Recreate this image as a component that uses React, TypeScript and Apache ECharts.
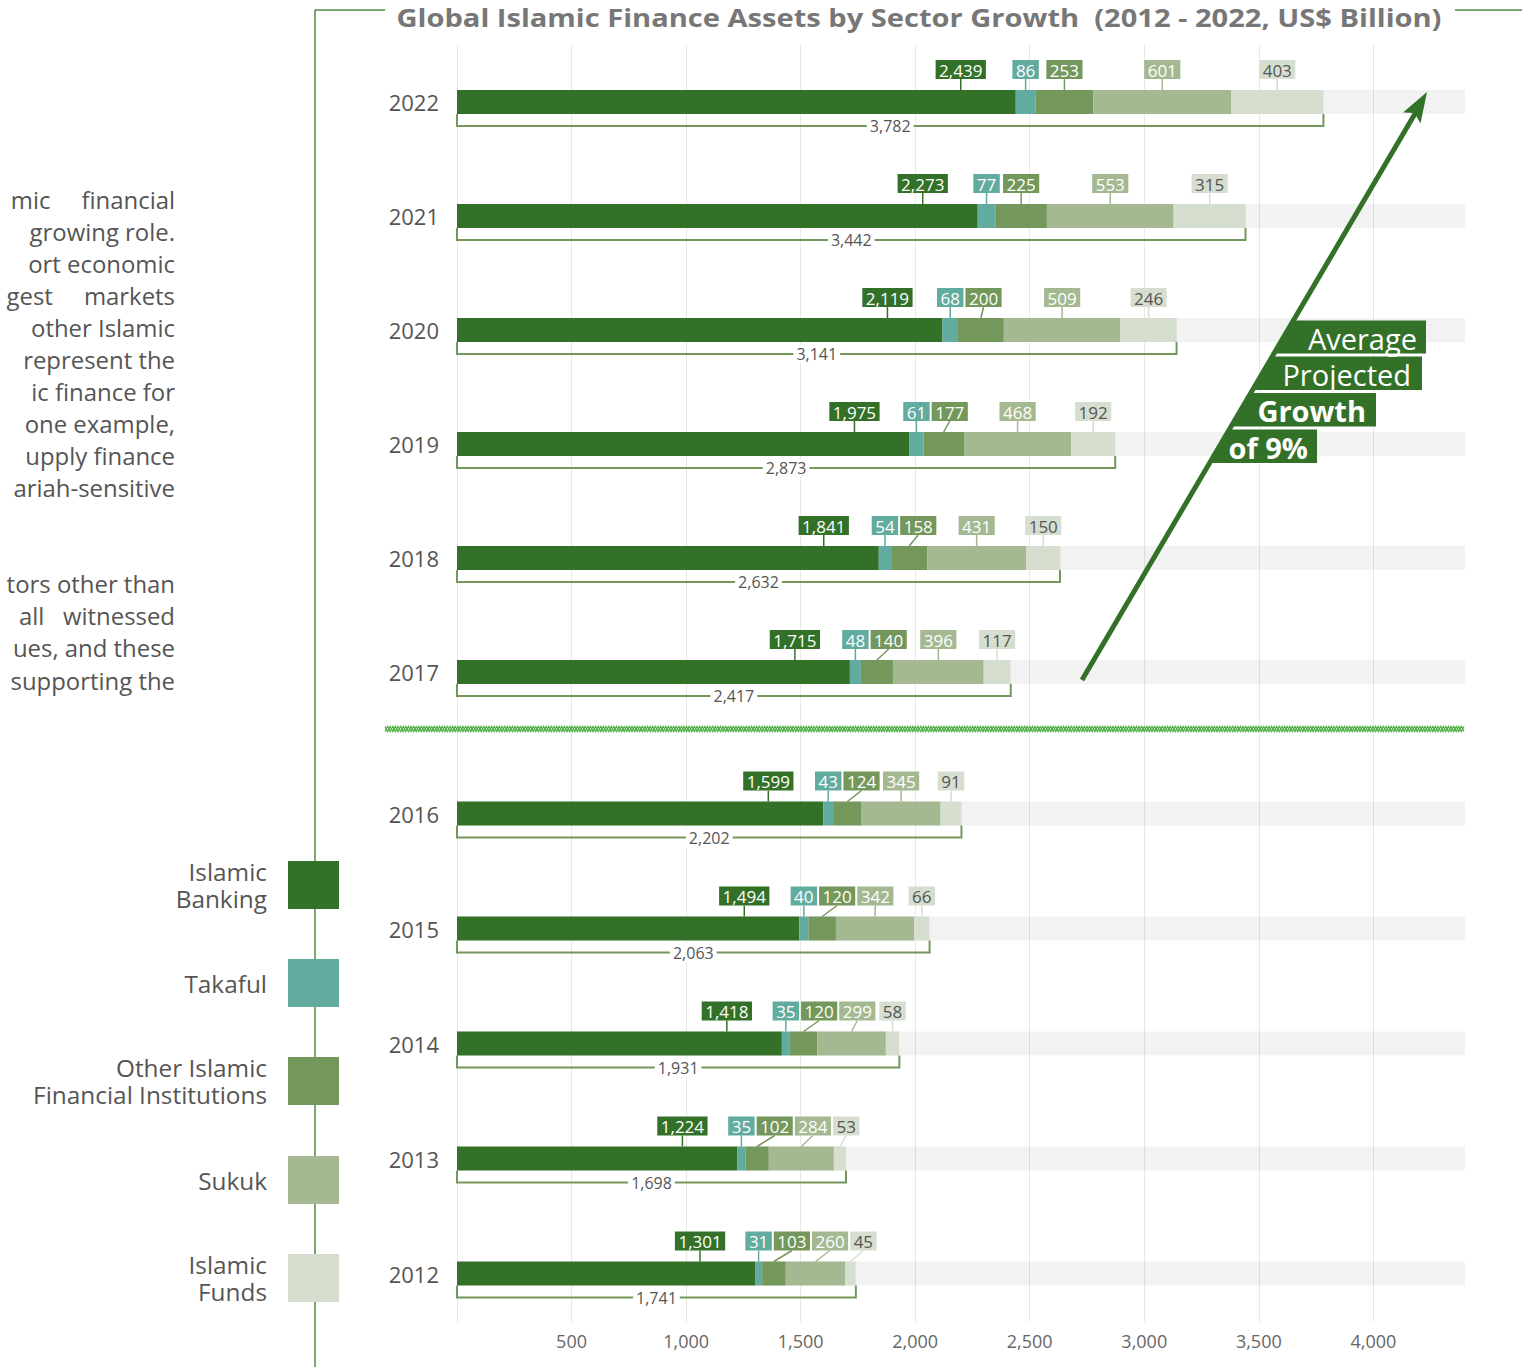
import React, { useEffect, useRef } from 'react';
import * as echarts from 'echarts';

// ---------------- data ----------------
const years = ['2012', '2013', '2014', '2015', '2016', '2017', '2018', '2019', '2020', '2021', '2022'];
const banking = [1301, 1224, 1418, 1494, 1599, 1715, 1841, 1975, 2119, 2273, 2439];
const takaful = [31, 35, 35, 40, 43, 48, 54, 61, 68, 77, 86];
const otherIFI = [103, 102, 120, 120, 124, 140, 158, 177, 200, 225, 253];
const sukuk = [260, 284, 299, 342, 345, 396, 431, 468, 509, 553, 601];
const funds = [45, 53, 58, 66, 91, 117, 150, 192, 246, 315, 403];
const totals = [1741, 1698, 1931, 2063, 2202, 2417, 2632, 2873, 3141, 3442, 3782];
const sectorNames = ['Islamic Banking', 'Takaful', 'Other Islamic Financial Institutions', 'Sukuk', 'Islamic Funds'];
const legendLabels = [['Islamic', 'Banking'], ['Takaful'], ['Other Islamic', 'Financial Institutions'], ['Sukuk'], ['Islamic', 'Funds']];
const xTickInterval = 500;
const xMax = 4400;
const xTickMax = 4000;
const splitYear = 5; // index of 2017: first year of the upper panel
const titleText = 'Global Islamic Finance Assets by Sector Growth  (2012 - 2022, US$ Billion)';
const growthNote = ['Average', 'Projected', 'Growth', 'of 9%'];
const paragraph1 = ['mic     financial', 'growing role.', 'ort economic', 'gest     markets', 'other Islamic', 'represent the', 'ic finance for', 'one example,', 'upply finance', 'ariah-sensitive'];
const paragraph2 = ['tors other than', 'all   witnessed', 'ues, and these', 'supporting the'];

// ---------------- styles ----------------
const FONT = '"Open Sans", "Noto Sans", sans-serif';
const COLORS = ['#337129', '#62ab9f', '#74975b', '#a4b991', '#d6dfcf'];
const TEXT = '#555';
const BAR_H = 24;
const W = 1522;
const H = 1367;
const GRID_L = 457;
const GRID_R = 1465;
const PX_PER_UNIT = (GRID_R - GRID_L) / xMax;

const fmt = (v: number) => Math.round(v).toLocaleString('en-US');

let measureCtx: CanvasRenderingContext2D | null = null;
function textWidth(t: string, font: string): number {
  if (!measureCtx) measureCtx = document.createElement('canvas').getContext('2d');
  if (!measureCtx) return t.length * 9;
  measureCtx.font = font;
  return measureCtx.measureText(t).width;
}

const sectors = [banking, takaful, otherIFI, sukuk, funds];

function rowsFor(from: number, to: number) {
  const out: number[][] = [];
  for (let i = from; i < to; i++) {
    out.push([i - from, banking[i], takaful[i], otherIFI[i], sukuk[i], funds[i], totals[i]]);
  }
  return out;
}

function renderAnnot(_params: any, api: any) {
  const cat = api.value(0);
  const vals = [1, 2, 3, 4, 5].map((d) => Number(api.value(d)));
  const total = Number(api.value(6));
  const base = api.coord([0, cat]);
  const x0 = base[0];
  const yc = base[1];
  const edges = [x0];
  let cum = 0;
  vals.forEach((v) => {
    cum += v;
    edges.push(api.coord([cum, cat])[0]);
  });
  const xT = api.coord([total, cat])[0];
  const top = yc - BAR_H / 2;
  const bot = yc + BAR_H / 2;
  const children: any[] = [];
  const by = bot + 12;
  children.push({
    type: 'polyline',
    shape: { points: [[x0, bot], [x0, by], [xT, by], [xT, bot]] },
    style: { stroke: '#74975b', lineWidth: 2, fill: null },
  });
  children.push({
    type: 'text',
    x: (x0 + xT) / 2,
    y: by,
    style: {
      text: fmt(total), font: `16px ${FONT}`, fill: TEXT, align: 'center', verticalAlign: 'middle',
      backgroundColor: '#fff', padding: [1, 3],
    },
  });
  const LFONT = `17px ${FONT}`;
  const LH = 19;
  const lb = top - 11;
  let prevRight = -Infinity;
  vals.forEach((v, i) => {
    const t = fmt(v);
    const w = textWidth(t, LFONT) + 7;
    const segC = (edges[i] + edges[i + 1]) / 2;
    const desired = i === 0 ? edges[1] - 55 : segC;
    const left = Math.max(desired - w / 2, prevRight + 2);
    const c = left + w / 2;
    prevRight = left + w;
    children.push({
      type: 'line',
      shape: { x1: c, y1: lb, x2: i === 0 ? c : segC, y2: top },
      style: { stroke: COLORS[i], lineWidth: 1.5 },
    });
    children.push({ type: 'rect', shape: { x: left, y: lb - LH, width: w, height: LH }, style: { fill: COLORS[i] } });
    children.push({
      type: 'text', x: c, y: lb - LH / 2 + 0.5,
      style: { text: t, font: LFONT, fill: i === 4 ? TEXT : '#fff', align: 'center', verticalAlign: 'middle' },
    });
  });
  return { type: 'group', children };
}

function buildGraphics() {
  const g: any[] = [];
  // frame line and title
  const frame = { stroke: '#4e8a3e', lineWidth: 1.5 };
  g.push({ type: 'line', shape: { x1: 315, y1: 10, x2: 315, y2: H }, style: frame, z: 1 });
  g.push({ type: 'line', shape: { x1: 315, y1: 10, x2: 385, y2: 10 }, style: frame, z: 1 });
  g.push({ type: 'line', shape: { x1: 1455, y1: 10, x2: W, y2: 10 }, style: frame, z: 1 });
  const tFont = `bold 25px ${FONT}`;
  const tw = textWidth(titleText, tFont);
  const sx = tw > 0 ? 1045 / tw : 1;
  g.push({
    type: 'text', x: 919, y: 17, scaleX: sx, z: 5,
    style: { text: titleText, font: tFont, fill: '#777', align: 'center', verticalAlign: 'middle' },
  });
  // paragraphs
  const pFont = `23px ${FONT}`;
  paragraph1.forEach((t, i) => {
    g.push({ type: 'text', x: 175, y: 200 + i * 32, scaleX: 1.04, style: { text: t, font: pFont, fill: TEXT, align: 'right', verticalAlign: 'middle' } });
  });
  paragraph2.forEach((t, i) => {
    g.push({ type: 'text', x: 175, y: 584 + i * 32.3, scaleX: 1.04, style: { text: t, font: pFont, fill: TEXT, align: 'right', verticalAlign: 'middle' } });
  });
  // legend
  const legY = [861, 959, 1057, 1156, 1254];
  legendLabels.forEach((lines, i) => {
    g.push({ type: 'rect', shape: { x: 288, y: legY[i], width: 51, height: 48 }, style: { fill: COLORS[i] }, z: 3 });
    const cy = legY[i] + 25;
    lines.forEach((t, j) => {
      const off = lines.length === 1 ? 0 : (j === 0 ? -13.5 : 13.5);
      g.push({
        type: 'text', x: 267, y: cy + off, z: 3, scaleX: 1.06,
        style: { text: t, font: `23px ${FONT}`, fill: TEXT, align: 'right', verticalAlign: 'middle' },
      });
    });
  });
  // separator chain between 2017 and 2016
  const p1: number[][] = [];
  const p2: number[][] = [];
  let k = 0;
  for (let x = 385; x <= 1465; x += 2.6, k++) {
    p1.push([x, k % 2 === 0 ? 726.4 : 731.6]);
    p2.push([x, k % 2 === 0 ? 731.6 : 726.4]);
  }
  g.push({ type: 'polyline', shape: { points: p1 }, style: { stroke: '#4fae44', lineWidth: 1.2 }, z: 3 });
  g.push({ type: 'polyline', shape: { points: p2 }, style: { stroke: '#4fae44', lineWidth: 1.2 }, z: 3 });
  // growth annotation bands
  const ax = (y: number) => 1082 + (680 - y) * (345 / 588);
  const bands = [
    { yt: 320.5, yb: 353.5, right: 1426, tr: 1417, bold: false },
    { yt: 356.5, yb: 390, right: 1422, tr: 1411, bold: false },
    { yt: 393, yb: 426.5, right: 1376, tr: 1366, bold: true },
    { yt: 429.5, yb: 463, right: 1317, tr: 1308, bold: true },
  ];
  bands.forEach((b, i) => {
    g.push({
      type: 'polygon', z: 6,
      shape: { points: [[ax(b.yt), b.yt], [b.right, b.yt], [b.right, b.yb], [ax(b.yb), b.yb]] },
      style: { fill: '#337129' },
    });
    g.push({
      type: 'text', x: b.tr, y: (b.yt + b.yb) / 2 + 1, z: 7,
      style: { text: growthNote[i], font: `${b.bold ? 'bold ' : ''}29px ${FONT}`, fill: '#fff', align: 'right', verticalAlign: 'middle' },
    });
  });
  // arrow
  g.push({ type: 'line', z: 6, shape: { x1: 1082, y1: 680, x2: 1416, y2: 112 }, style: { stroke: '#337129', lineWidth: 5 } });
  g.push({
    type: 'polygon', z: 6,
    shape: { points: [[1427, 92], [1420.5, 123.5], [1414.5, 113], [1403, 112.5]] },
    style: { fill: '#337129' },
  });
  return g;
}

function makeBarSeries(gridIdx: number, from: number, to: number) {
  return sectors.map((arr, i) => ({
    type: 'bar',
    name: sectorNames[i],
    xAxisIndex: gridIdx,
    yAxisIndex: gridIdx,
    stack: 'g' + gridIdx,
    barWidth: BAR_H,
    data: arr.slice(from, to),
    itemStyle: { color: COLORS[i] },
    showBackground: i === 0,
    backgroundStyle: { color: 'rgba(0,0,0,0.05)' },
    z: 2,
  }));
}

function buildOption(): any {
  const hiddenX = (gi: number) => ({
    type: 'value', gridIndex: gi, min: 0, max: xMax, interval: xTickInterval, show: false,
  });
  const catY = (gi: number, cats: string[]) => ({
    type: 'category', gridIndex: gi, data: cats,
    axisLine: { show: false }, axisTick: { show: false },
    axisLabel: { color: TEXT, fontSize: 22, fontFamily: FONT, margin: 18 },
  });
  const tickGridRight = GRID_L + xTickMax * PX_PER_UNIT;
  return {
    animation: false,
    backgroundColor: '#fff',
    textStyle: { fontFamily: FONT },
    grid: [
      { left: GRID_L, right: W - GRID_R, top: 45, height: 684 },
      { left: GRID_L, right: W - GRID_R, top: 756, height: 575 },
      { left: GRID_L, right: W - tickGridRight, top: 45, height: 1277 },
    ],
    xAxis: [
      hiddenX(0),
      hiddenX(1),
      {
        type: 'value', gridIndex: 2, min: 0, max: xTickMax, interval: xTickInterval, position: 'bottom',
        axisLine: { show: false }, axisTick: { show: false },
        splitLine: { show: true, lineStyle: { color: '#e9e9e4', width: 1 } },
        axisLabel: {
          color: '#666', fontSize: 18, fontFamily: FONT, margin: 10,
          formatter: (v: number) => (v === 0 ? '' : fmt(v)),
        },
      },
    ],
    yAxis: [
      catY(0, years.slice(splitYear)),
      catY(1, years.slice(0, splitYear)),
      { type: 'value', gridIndex: 2, min: 0, max: 1, show: false },
    ],
    series: [
      ...makeBarSeries(0, splitYear, years.length),
      ...makeBarSeries(1, 0, splitYear),
      {
        type: 'custom', xAxisIndex: 0, yAxisIndex: 0, z: 5, renderItem: renderAnnot,
        encode: { x: 6, y: 0 }, data: rowsFor(splitYear, years.length),
      },
      {
        type: 'custom', xAxisIndex: 1, yAxisIndex: 1, z: 5, renderItem: renderAnnot,
        encode: { x: 6, y: 0 }, data: rowsFor(0, splitYear),
      },
    ],
    graphic: buildGraphics(),
  };
}

export default function App() {
  const ref = useRef<HTMLDivElement>(null);
  useEffect(() => {
    if (!ref.current) return;
    const chart = echarts.init(ref.current, undefined, { renderer: 'svg' });
    chart.setOption(buildOption());
    return () => chart.dispose();
  }, []);
  return (
    <div
      ref={ref}
      style={{ position: 'fixed', left: 0, top: 0, width: W, height: H, background: '#fff' }}
    />
  );
}
